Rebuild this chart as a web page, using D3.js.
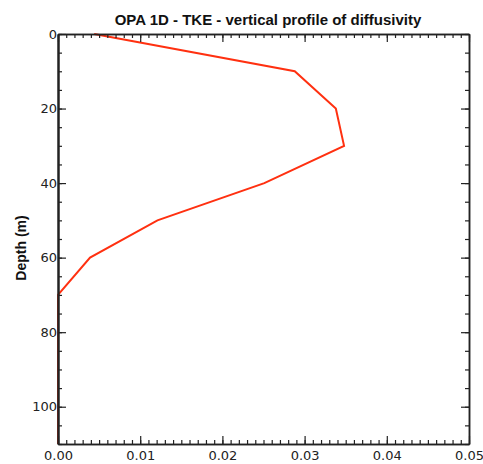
<!DOCTYPE html>
<html>
  <head>
    <meta charset="utf-8">
    <title>OPA 1D - TKE</title>
    <script src="https://d3js.org/d3.v7.min.js"></script>
    <style>
      body { margin: 0; background: #fff; }
    </style>
  </head>
  <body>
    <svg id="chart"></svg>
    <script>
      // profile (depth in m, diffusivity)
      var depths = [0, 10, 20, 30, 40, 50, 60, 70, 80, 90, 100, 110];
      var diffusivity = [0.0044, 0.0288, 0.0338, 0.0348, 0.0251, 0.0121, 0.0039, 0, 0, 0, 0, 0];
      var xTicks = [0, 0.01, 0.02, 0.03, 0.04, 0.05];
      var xTickLabels = ["0.00", "0.01", "0.02", "0.03", "0.04", "0.05"];
      var yTicks = [0, 20, 40, 60, 80, 100];

      var width = 483, height = 464;
      var margin = {top: 34, right: 14, bottom: 20, left: 58};

      var svg = d3.select("#chart").attr("width", width).attr("height", height);

      var x = d3.scaleLinear().domain([0, 0.05]).range([margin.left, width - margin.right]);
      var y = d3.scaleLinear().domain([0, 110]).range([margin.top, height - margin.bottom]);

      var datos = depths.map(function(d, i) { return {depth: d, k: diffusivity[i]}; });

      var line = d3.line()
        .x(function(d) { return x(d.k); })
        .y(function(d) { return y(d.depth); });

      svg.append("path")
        .datum(datos)
        .attr("fill", "none")
        .attr("stroke", "#ff3010")
        .attr("stroke-width", 2)
        .attr("d", line);

      var minorX = d3.range(0, 0.0501, 0.001);
      var minorY = d3.range(0, 111, 5);

      function styleAxis(g, w) {
        g.select(".domain").attr("stroke", "#222").attr("stroke-width", w);
        g.selectAll(".tick line").attr("stroke", "#222").attr("stroke-width", 1.2);
      }

      // bottom
      svg.append("g").attr("transform", "translate(0," + y(110) + ")")
        .call(d3.axisBottom(x).tickValues(minorX).tickSizeInner(-4).tickSizeOuter(0).tickFormat(""))
        .call(styleAxis, 1.5);
      svg.append("g").attr("transform", "translate(0," + y(110) + ")")
        .call(d3.axisBottom(x).tickValues(xTicks).tickSizeInner(-8).tickSizeOuter(0).tickPadding(7)
          .tickFormat(function(d, i) { return xTickLabels[i]; }))
        .call(styleAxis, 1.5)
        .call(function(g) {
          g.selectAll("text").attr("font-family", "DejaVu Sans").attr("font-size", 13).attr("fill", "#222");
        });
      // top
      svg.append("g").attr("transform", "translate(0," + y(0) + ")")
        .call(d3.axisTop(x).tickValues(minorX).tickSizeInner(-4).tickSizeOuter(0).tickFormat(""))
        .call(styleAxis, 1.5);
      svg.append("g").attr("transform", "translate(0," + y(0) + ")")
        .call(d3.axisTop(x).tickValues(xTicks).tickSizeInner(-8).tickSizeOuter(0).tickFormat(""))
        .call(styleAxis, 1.5);
      // right
      svg.append("g").attr("transform", "translate(" + x(0.05) + ",0)")
        .call(d3.axisRight(y).tickValues(minorY).tickSizeInner(-4).tickSizeOuter(0).tickFormat(""))
        .call(styleAxis, 1.5);
      svg.append("g").attr("transform", "translate(" + x(0.05) + ",0)")
        .call(d3.axisRight(y).tickValues(yTicks).tickSizeInner(-8).tickSizeOuter(0).tickFormat(""))
        .call(styleAxis, 1.5);
      // left
      svg.append("g").attr("transform", "translate(" + x(0) + ",0)")
        .call(d3.axisLeft(y).tickValues(minorY).tickSizeInner(-4).tickSizeOuter(0).tickFormat(""))
        .call(styleAxis, 2);
      svg.append("g").attr("transform", "translate(" + x(0) + ",0)")
        .call(d3.axisLeft(y).tickValues(yTicks).tickSizeInner(-8).tickSizeOuter(0).tickPadding(1))
        .call(styleAxis, 2)
        .call(function(g) {
          g.selectAll("text").attr("font-family", "DejaVu Sans").attr("font-size", 13).attr("fill", "#222");
        });

      // titulo
      svg.append("text")
        .attr("x", 268)
        .attr("y", 25)
        .attr("text-anchor", "middle")
        .attr("font-family", "Liberation Sans, Arial, sans-serif")
        .attr("font-weight", "bold")
        .attr("font-size", 15)
        .attr("fill", "#111")
        .text("OPA 1D - TKE - vertical profile of diffusivity");

      svg.append("text")
        .attr("transform", "translate(26,248) rotate(-90)")
        .attr("text-anchor", "middle")
        .attr("font-family", "Liberation Sans, Arial, sans-serif")
        .attr("font-weight", "bold")
        .attr("font-size", 14)
        .attr("fill", "#111")
        .text("Depth (m)");
    </script>
  </body>
</html>
